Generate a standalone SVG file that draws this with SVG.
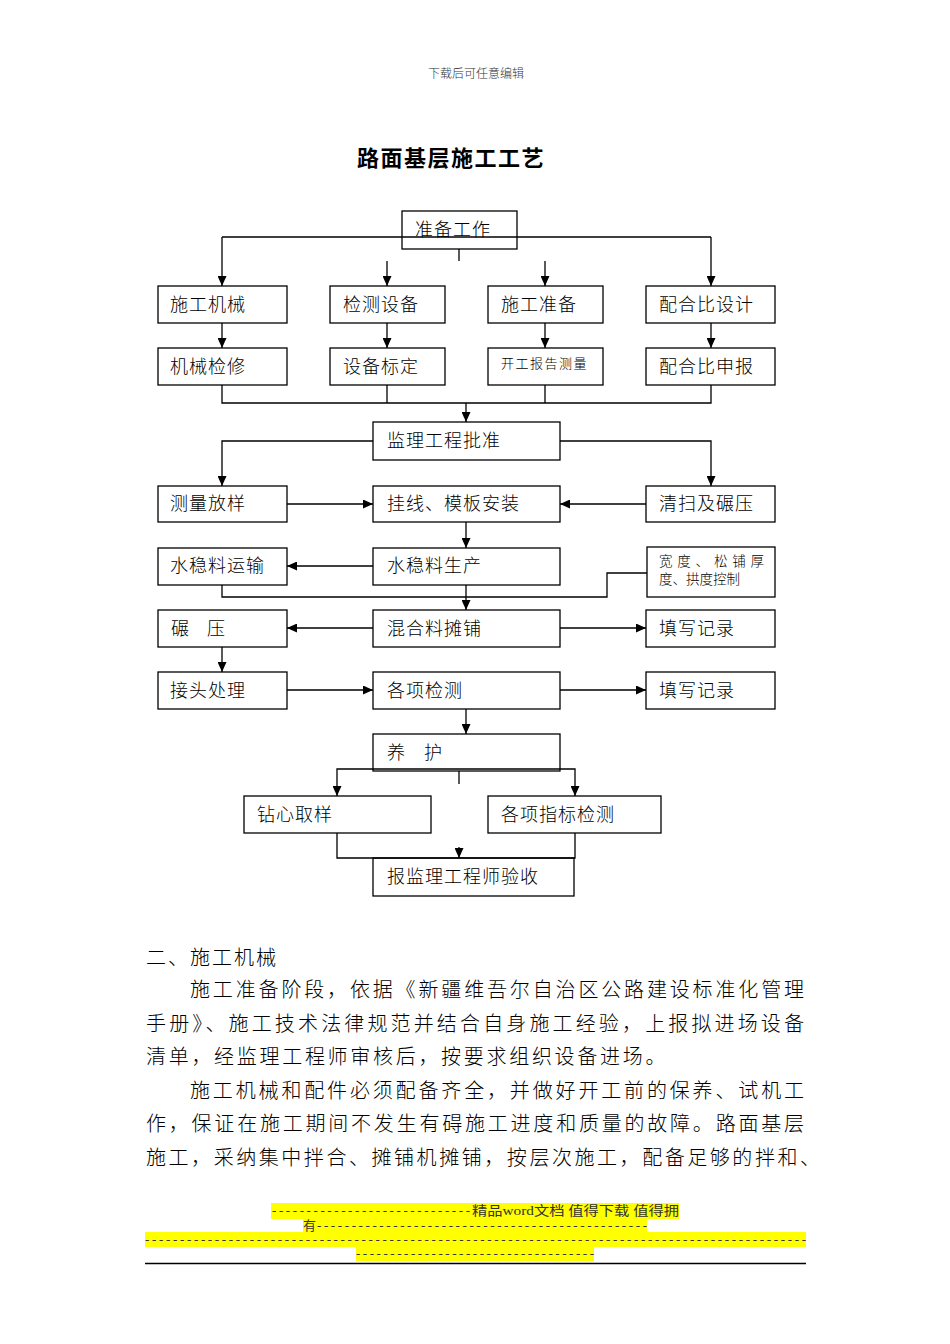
<svg xmlns="http://www.w3.org/2000/svg" width="950" height="1344" viewBox="0 0 950 1344">
<style>
.box{fill:#fff;stroke:#000;stroke-width:1.3}
.lbl{font-family:"Noto Sans CJK SC","Liberation Sans",sans-serif;font-size:18px;letter-spacing:1px;fill:#000;font-weight:300}
.sm{font-size:13px;letter-spacing:1.5px}
.con{fill:none;stroke:#000;stroke-width:1.3}
.arr{marker-end:url(#ah)}
.body{font-family:"Noto Sans CJK SC","Liberation Sans",sans-serif;font-size:20px;fill:#000;font-weight:300}
.ft{font-family:"Liberation Serif","Noto Sans CJK SC",serif;font-size:13px;fill:#333}
.hl{fill:#ffff00}
</style>
<defs>
<marker id="ah" markerUnits="userSpaceOnUse" markerWidth="10" markerHeight="9" refX="10" refY="4.5" orient="auto">
<path d="M0,0 L10,4.5 L0,9 z" fill="#000"/>
</marker>
</defs>
<rect width="950" height="1344" fill="#fff"/>
<text x="476" y="78" text-anchor="middle" style="font-family:'Noto Sans CJK SC',serif;font-size:12px;fill:#333;font-weight:300">下载后可任意编辑</text>
<text x="451" y="166" text-anchor="middle" style="font-family:'Noto Sans CJK SC',sans-serif;font-size:22px;font-weight:bold;letter-spacing:1.5px">路面基层施工工艺</text>

<g id="n-zbgz"><rect class="box" x="402" y="211" width="115" height="38"/><text class="lbl" x="415" y="236">准备工作</text></g>
<g id="n-sgjx"><rect class="box" x="158" y="286" width="129" height="37"/><text class="lbl" x="170" y="311">施工机械</text></g>
<g id="n-jcsb"><rect class="box" x="330" y="286" width="115" height="37"/><text class="lbl" x="343" y="311">检测设备</text></g>
<g id="n-sgzb"><rect class="box" x="488" y="286" width="115" height="37"/><text class="lbl" x="501" y="311">施工准备</text></g>
<g id="n-phbsj"><rect class="box" x="646" y="286" width="129" height="37"/><text class="lbl" x="659" y="311">配合比设计</text></g>
<g id="n-jxjx"><rect class="box" x="158" y="348" width="129" height="37"/><text class="lbl" x="170" y="373">机械检修</text></g>
<g id="n-sbbd"><rect class="box" x="330" y="348" width="115" height="37"/><text class="lbl" x="343" y="373">设备标定</text></g>
<g id="n-kgbg"><rect class="box" x="488" y="348" width="115" height="37"/><text class="lbl sm" x="501" y="368">开工报告测量</text></g>
<g id="n-phbsb"><rect class="box" x="646" y="348" width="129" height="37"/><text class="lbl" x="659" y="373">配合比申报</text></g>
<g id="n-jlpz"><rect class="box" x="373" y="422" width="187" height="38"/><text class="lbl" x="387" y="447">监理工程批准</text></g>
<g id="n-clfy"><rect class="box" x="158" y="486" width="129" height="36"/><text class="lbl" x="170" y="510">测量放样</text></g>
<g id="n-gxmb"><rect class="box" x="373" y="486" width="187" height="36"/><text class="lbl" x="387" y="510">挂线、模板安装</text></g>
<g id="n-qsny"><rect class="box" x="646" y="486" width="129" height="36"/><text class="lbl" x="659" y="510">清扫及碾压</text></g>
<g id="n-swlys"><rect class="box" x="158" y="548" width="129" height="37"/><text class="lbl" x="170" y="572">水稳料运输</text></g>
<g id="n-swlsc"><rect class="box" x="373" y="548" width="187" height="37"/><text class="lbl" x="387" y="572">水稳料生产</text></g>
<g id="n-kdkz"><rect class="box" x="647" y="547" width="128" height="50"/>
<text class="lbl" x="659" y="566" textLength="105" lengthAdjust="spacing" style="font-size:13.5px;letter-spacing:0">宽度、松铺厚</text>
<text class="lbl" x="659" y="584" style="font-size:13.5px;letter-spacing:0">度、拱度控制</text></g>
<g id="n-ny"><rect class="box" x="158" y="610" width="129" height="37"/><text class="lbl" x="171" y="635">碾</text><text class="lbl" x="207" y="635">压</text></g>
<g id="n-hltp"><rect class="box" x="373" y="610" width="187" height="37"/><text class="lbl" x="387" y="635">混合料摊铺</text></g>
<g id="n-txjl1"><rect class="box" x="646" y="610" width="129" height="37"/><text class="lbl" x="659" y="635">填写记录</text></g>
<g id="n-jtcl"><rect class="box" x="158" y="672" width="129" height="37"/><text class="lbl" x="170" y="697">接头处理</text></g>
<g id="n-gxjc"><rect class="box" x="373" y="672" width="187" height="37"/><text class="lbl" x="387" y="697">各项检测</text></g>
<g id="n-txjl2"><rect class="box" x="646" y="672" width="129" height="37"/><text class="lbl" x="659" y="697">填写记录</text></g>
<g id="n-yh"><rect class="box" x="373" y="734" width="187" height="37"/><text class="lbl" x="387" y="759">养</text><text class="lbl" x="424" y="759">护</text></g>
<g id="n-zxqy"><rect class="box" x="244" y="796" width="187" height="37"/><text class="lbl" x="257" y="821">钻心取样</text></g>
<g id="n-gxzb"><rect class="box" x="488" y="796" width="173" height="37"/><text class="lbl" x="501" y="821">各项指标检测</text></g>
<g id="n-bjl"><rect class="box" x="373" y="858" width="201" height="38"/><text class="lbl" x="387" y="883">报监理工程师验收</text></g>

<g id="connectors">
<path class="con" d="M222,237 H711"/>
<path class="con arr" d="M222,237 V286"/>
<path class="con arr" d="M711,237 V286"/>
<path class="con" d="M459,249 V261"/>
<path class="con arr" d="M387,261 V286"/>
<path class="con arr" d="M545,261 V286"/>
<path class="con arr" d="M222,323 V348"/>
<path class="con arr" d="M387,323 V348"/>
<path class="con arr" d="M545,323 V348"/>
<path class="con arr" d="M711,323 V348"/>
<path class="con" d="M222,385 V403 H711 V385 M387,385 V403 M545,385 V403"/>
<path class="con arr" d="M466,403 V422"/>
<path class="con arr" d="M373,441 H222 V486"/>
<path class="con arr" d="M560,441 H711 V486"/>
<path class="con arr" d="M287,504 H373"/>
<path class="con arr" d="M646,504 H560"/>
<path class="con arr" d="M466,522 V548"/>
<path class="con arr" d="M373,566 H287"/>
<path class="con" d="M222,585 V597 H607 V573 H647"/>
<path class="con arr" d="M466,585 V610"/>
<path class="con arr" d="M373,628 H287"/>
<path class="con arr" d="M560,628 H646"/>
<path class="con arr" d="M222,647 V672"/>
<path class="con arr" d="M287,690 H373"/>
<path class="con arr" d="M560,690 H646"/>
<path class="con arr" d="M466,709 V734"/>
<path class="con arr" d="M459,769 H337 V796"/>
<path class="con arr" d="M459,769 H575 V796"/>
<path class="con" d="M459,771 V784"/>
<path class="con" d="M337,833 V858 H575 V833"/>
<path class="con arr" d="M459,847 V858"/>
</g>

<g id="body">
<text class="body" x="146" y="965" style="letter-spacing:2px">二、施工机械</text>
<text class="body" x="190" y="997" textLength="614" lengthAdjust="spacing">施工准备阶段，依据《新疆维吾尔自治区公路建设标准化管理</text>
<text class="body" x="146" y="1031" textLength="658" lengthAdjust="spacing">手册》、施工技术法律规范并结合自身施工经验，上报拟进场设备</text>
<text class="body" x="146" y="1064" style="letter-spacing:2.7px">清单，经监理工程师审核后，按要求组织设备进场。</text>
<text class="body" x="190" y="1098" textLength="614" lengthAdjust="spacing">施工机械和配件必须配备齐全，并做好开工前的保养、试机工</text>
<text class="body" x="146" y="1131" textLength="658" lengthAdjust="spacing">作，保证在施工期间不发生有碍施工进度和质量的故障。路面基层</text>
<text class="body" x="146" y="1165" textLength="674" lengthAdjust="spacing">施工，采纳集中拌合、摊铺机摊铺，按层次施工，配备足够的拌和、</text>
</g>

<g id="footer">
<rect class="hl" x="271" y="1203" width="408" height="16"/>
<rect class="hl" x="303" y="1218" width="344" height="15"/>
<rect class="hl" x="145" y="1232" width="661" height="15"/>
<rect class="hl" x="356" y="1247" width="238" height="14"/>
<text class="ft" x="272" y="1215" textLength="198" lengthAdjust="spacing">-----------------------------</text>
<text class="ft" x="472" y="1215" textLength="207" lengthAdjust="spacingAndGlyphs">精品word文档 值得下载 值得拥</text>
<text class="ft" x="303" y="1230">有</text>
<text class="ft" x="317" y="1230" textLength="330" lengthAdjust="spacing">------------------------------------------------</text>
<text class="ft" x="145" y="1244" textLength="661" lengthAdjust="spacing">-----------------------------------------------------------------------------------------------</text>
<text class="ft" x="356" y="1258" textLength="238" lengthAdjust="spacing">-----------------------------------</text>
<path d="M145,1263.5 H806" stroke="#000" stroke-width="1.5"/>
</g>
</svg>
